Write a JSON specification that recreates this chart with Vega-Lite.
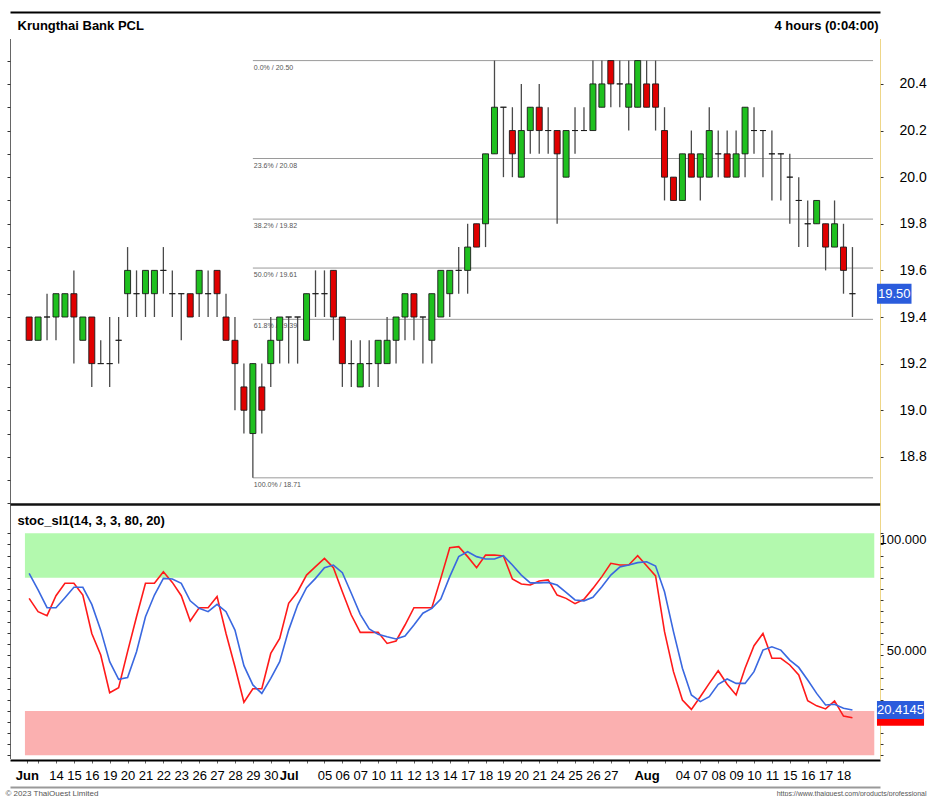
{
  "$schema": "https://vega.github.io/schema/vega-lite/v6.json",
  "autosize": {"type": "none"},
  "width": 870,
  "height": 720,
  "padding": {"left": 10, "top": 38, "right": 47, "bottom": 38},
  "background": "white",
  "config": {
    "view": {"stroke": null},
    "font": "Liberation Sans, Arial, sans-serif",
    "axis": {"grid": false}
  },
  "datasets": {
    "bars": [
      {"i":0,"t":"06-12 PM","o":19.4,"h":19.4,"l":19.3,"c":19.3,"k":70.7,"d":82.0},
      {"i":1,"t":"06-13 AM","o":19.3,"h":19.4,"l":19.3,"c":19.4,"k":64.7,"d":74.5},
      {"i":2,"t":"06-13 PM","o":19.4,"h":19.5,"l":19.3,"c":19.4,"k":62.9,"d":66.5},
      {"i":3,"t":"06-14 AM","o":19.4,"h":19.5,"l":19.3,"c":19.5,"k":71.9,"d":66.5},
      {"i":4,"t":"06-14 PM","o":19.4,"h":19.5,"l":19.4,"c":19.5,"k":77.5,"d":71.0},
      {"i":5,"t":"06-15 AM","o":19.5,"h":19.6,"l":19.2,"c":19.4,"k":77.5,"d":75.7},
      {"i":6,"t":"06-15 PM","o":19.3,"h":19.4,"l":19.3,"c":19.4,"k":72.2,"d":75.7},
      {"i":7,"t":"06-16 AM","o":19.4,"h":19.4,"l":19.1,"c":19.2,"k":54.9,"d":68.0},
      {"i":8,"t":"06-16 PM","o":19.2,"h":19.3,"l":19.2,"c":19.2,"k":45.2,"d":56.4},
      {"i":9,"t":"06-19 AM","o":19.2,"h":19.4,"l":19.1,"c":19.2,"k":28.2,"d":42.2},
      {"i":10,"t":"06-19 PM","o":19.3,"h":19.4,"l":19.2,"c":19.3,"k":30.5,"d":34.2},
      {"i":11,"t":"06-20 AM","o":19.5,"h":19.7,"l":19.4,"c":19.6,"k":46.7,"d":35.0},
      {"i":12,"t":"06-20 PM","o":19.5,"h":19.6,"l":19.4,"c":19.5,"k":62.4,"d":46.7},
      {"i":13,"t":"06-21 AM","o":19.5,"h":19.6,"l":19.4,"c":19.6,"k":77.5,"d":62.4},
      {"i":14,"t":"06-21 PM","o":19.5,"h":19.6,"l":19.4,"c":19.6,"k":77.5,"d":72.2},
      {"i":15,"t":"06-22 AM","o":19.6,"h":19.7,"l":19.5,"c":19.6,"k":82.7,"d":79.7},
      {"i":16,"t":"06-22 PM","o":19.5,"h":19.6,"l":19.4,"c":19.5,"k":77.9,"d":79.4},
      {"i":17,"t":"06-23 AM","o":19.5,"h":19.5,"l":19.3,"c":19.5,"k":71.9,"d":77.5},
      {"i":18,"t":"06-23 PM","o":19.5,"h":19.5,"l":19.4,"c":19.4,"k":60.5,"d":69.6},
      {"i":19,"t":"06-26 AM","o":19.5,"h":19.6,"l":19.4,"c":19.6,"k":66.5,"d":66.2},
      {"i":20,"t":"06-26 PM","o":19.5,"h":19.6,"l":19.4,"c":19.5,"k":66.5,"d":64.7},
      {"i":21,"t":"06-27 AM","o":19.6,"h":19.6,"l":19.4,"c":19.5,"k":71.5,"d":68.0},
      {"i":22,"t":"06-27 PM","o":19.4,"h":19.5,"l":19.3,"c":19.3,"k":54.9,"d":64.7},
      {"i":23,"t":"06-28 AM","o":19.3,"h":19.4,"l":19.0,"c":19.2,"k":39.9,"d":56.4},
      {"i":24,"t":"06-28 PM","o":19.1,"h":19.2,"l":18.9,"c":19.0,"k":23.9,"d":40.4},
      {"i":25,"t":"06-29 AM","o":18.9,"h":19.2,"l":18.71,"c":19.2,"k":30.0,"d":31.7},
      {"i":26,"t":"06-29 PM","o":19.1,"h":19.2,"l":18.9,"c":19.0,"k":30.0,"d":27.9},
      {"i":27,"t":"06-30 AM","o":19.2,"h":19.4,"l":19.1,"c":19.3,"k":45.9,"d":34.7},
      {"i":28,"t":"06-30 PM","o":19.3,"h":19.4,"l":19.2,"c":19.4,"k":52.7,"d":42.2},
      {"i":29,"t":"07-03 AM","o":19.4,"h":19.4,"l":19.2,"c":19.4,"k":68.5,"d":56.4},
      {"i":30,"t":"07-03 PM","o":19.4,"h":19.4,"l":19.2,"c":19.4,"k":73.7,"d":67.7},
      {"i":31,"t":"07-04 AM","o":19.3,"h":19.5,"l":19.3,"c":19.5,"k":81.2,"d":75.5},
      {"i":32,"t":"07-04 PM","o":19.5,"h":19.6,"l":19.4,"c":19.5,"k":85.0,"d":79.7},
      {"i":33,"t":"07-05 AM","o":19.5,"h":19.6,"l":19.4,"c":19.5,"k":88.7,"d":84.5},
      {"i":34,"t":"07-05 PM","o":19.6,"h":19.6,"l":19.3,"c":19.4,"k":84.5,"d":85.7},
      {"i":35,"t":"07-06 AM","o":19.4,"h":19.4,"l":19.1,"c":19.2,"k":73.7,"d":82.3},
      {"i":36,"t":"07-06 PM","o":19.2,"h":19.3,"l":19.1,"c":19.2,"k":63.2,"d":73.0},
      {"i":37,"t":"07-07 AM","o":19.1,"h":19.3,"l":19.1,"c":19.2,"k":55.4,"d":63.5},
      {"i":38,"t":"07-07 PM","o":19.2,"h":19.3,"l":19.1,"c":19.2,"k":55.4,"d":56.9},
      {"i":39,"t":"07-10 AM","o":19.2,"h":19.3,"l":19.1,"c":19.3,"k":55.4,"d":54.5},
      {"i":40,"t":"07-10 PM","o":19.2,"h":19.4,"l":19.2,"c":19.3,"k":50.4,"d":53.4},
      {"i":41,"t":"07-11 AM","o":19.3,"h":19.4,"l":19.2,"c":19.4,"k":51.5,"d":52.4},
      {"i":42,"t":"07-11 PM","o":19.4,"h":19.5,"l":19.3,"c":19.5,"k":58.7,"d":53.7},
      {"i":43,"t":"07-12 AM","o":19.5,"h":19.5,"l":19.3,"c":19.4,"k":66.5,"d":58.7},
      {"i":44,"t":"07-12 PM","o":19.4,"h":19.4,"l":19.2,"c":19.4,"k":66.5,"d":64.0},
      {"i":45,"t":"07-13 AM","o":19.3,"h":19.5,"l":19.2,"c":19.5,"k":66.5,"d":66.2},
      {"i":46,"t":"07-13 PM","o":19.4,"h":19.6,"l":19.4,"c":19.6,"k":79.7,"d":70.4},
      {"i":47,"t":"07-14 AM","o":19.5,"h":19.6,"l":19.4,"c":19.6,"k":93.5,"d":80.5},
      {"i":48,"t":"07-14 PM","o":19.6,"h":19.7,"l":19.5,"c":19.6,"k":94.0,"d":89.5},
      {"i":49,"t":"07-17 AM","o":19.6,"h":19.8,"l":19.5,"c":19.7,"k":89.5,"d":91.7},
      {"i":50,"t":"07-17 PM","o":19.8,"h":19.8,"l":19.7,"c":19.7,"k":84.5,"d":89.5},
      {"i":51,"t":"07-18 AM","o":19.8,"h":20.1,"l":19.7,"c":20.1,"k":90.2,"d":88.4},
      {"i":52,"t":"07-18 PM","o":20.1,"h":20.5,"l":20.1,"c":20.3,"k":90.2,"d":88.4},
      {"i":53,"t":"07-19 AM","o":20.3,"h":20.3,"l":20.0,"c":20.3,"k":89.8,"d":89.9},
      {"i":54,"t":"07-19 PM","o":20.2,"h":20.3,"l":20.0,"c":20.1,"k":79.4,"d":85.7},
      {"i":55,"t":"07-20 AM","o":20.0,"h":20.4,"l":20.0,"c":20.2,"k":77.2,"d":81.2},
      {"i":56,"t":"07-20 PM","o":20.2,"h":20.3,"l":20.1,"c":20.3,"k":76.7,"d":77.7},
      {"i":57,"t":"07-21 AM","o":20.3,"h":20.4,"l":20.1,"c":20.2,"k":78.5,"d":77.7},
      {"i":58,"t":"07-21 PM","o":20.2,"h":20.3,"l":20.1,"c":20.2,"k":79.0,"d":77.9},
      {"i":59,"t":"07-24 AM","o":20.2,"h":20.2,"l":19.8,"c":20.1,"k":72.2,"d":76.7},
      {"i":60,"t":"07-24 PM","o":20.0,"h":20.2,"l":20.0,"c":20.2,"k":70.7,"d":73.4},
      {"i":61,"t":"07-25 AM","o":20.2,"h":20.3,"l":20.1,"c":20.2,"k":68.3,"d":70.0},
      {"i":62,"t":"07-25 PM","o":20.2,"h":20.3,"l":20.2,"c":20.2,"k":70.3,"d":69.6},
      {"i":63,"t":"07-26 AM","o":20.2,"h":20.5,"l":20.2,"c":20.4,"k":75.2,"d":71.2},
      {"i":64,"t":"07-26 PM","o":20.3,"h":20.5,"l":20.3,"c":20.4,"k":80.5,"d":75.9},
      {"i":65,"t":"07-27 AM","o":20.5,"h":20.5,"l":20.3,"c":20.4,"k":86.5,"d":81.2},
      {"i":66,"t":"07-27 PM","o":20.4,"h":20.5,"l":20.3,"c":20.4,"k":85.7,"d":84.8},
      {"i":67,"t":"07-31 AM","o":20.3,"h":20.5,"l":20.2,"c":20.4,"k":85.7,"d":85.7},
      {"i":68,"t":"07-31 PM","o":20.3,"h":20.5,"l":20.3,"c":20.5,"k":89.9,"d":86.8},
      {"i":69,"t":"08-02 AM","o":20.4,"h":20.5,"l":20.3,"c":20.3,"k":85.4,"d":87.2},
      {"i":70,"t":"08-02 PM","o":20.4,"h":20.5,"l":20.2,"c":20.3,"k":80.8,"d":85.3},
      {"i":71,"t":"08-03 AM","o":20.2,"h":20.3,"l":19.9,"c":20.0,"k":55.7,"d":73.7},
      {"i":72,"t":"08-03 PM","o":20.0,"h":20.0,"l":19.9,"c":19.9,"k":37.7,"d":55.7},
      {"i":73,"t":"08-04 AM","o":19.9,"h":20.1,"l":19.9,"c":20.1,"k":24.9,"d":39.2},
      {"i":74,"t":"08-04 PM","o":20.1,"h":20.2,"l":20.0,"c":20.0,"k":20.7,"d":27.2},
      {"i":75,"t":"08-07 AM","o":20.0,"h":20.1,"l":19.9,"c":20.1,"k":26.4,"d":24.2},
      {"i":76,"t":"08-07 PM","o":20.0,"h":20.3,"l":20.0,"c":20.2,"k":32.4,"d":26.4},
      {"i":77,"t":"08-08 AM","o":20.1,"h":20.2,"l":20.0,"c":20.1,"k":38.1,"d":32.0},
      {"i":78,"t":"08-08 PM","o":20.1,"h":20.2,"l":20.0,"c":20.0,"k":32.0,"d":34.4},
      {"i":79,"t":"08-09 AM","o":20.0,"h":20.2,"l":20.0,"c":20.1,"k":27.2,"d":32.4},
      {"i":80,"t":"08-09 PM","o":20.1,"h":20.3,"l":20.0,"c":20.3,"k":39.2,"d":32.4},
      {"i":81,"t":"08-10 AM","o":20.2,"h":20.3,"l":20.1,"c":20.2,"k":49.4,"d":37.7},
      {"i":82,"t":"08-10 PM","o":20.2,"h":20.2,"l":20.0,"c":20.2,"k":54.9,"d":47.4},
      {"i":83,"t":"08-11 AM","o":20.1,"h":20.2,"l":19.9,"c":20.1,"k":43.7,"d":48.9},
      {"i":84,"t":"08-11 PM","o":20.1,"h":20.1,"l":19.9,"c":20.1,"k":43.7,"d":47.4},
      {"i":85,"t":"08-15 AM","o":20.0,"h":20.1,"l":19.8,"c":20.0,"k":40.7,"d":42.9},
      {"i":86,"t":"08-15 PM","o":19.9,"h":20.0,"l":19.7,"c":19.9,"k":36.2,"d":39.6},
      {"i":87,"t":"08-16 AM","o":19.8,"h":19.9,"l":19.7,"c":19.8,"k":24.6,"d":33.9},
      {"i":88,"t":"08-16 PM","o":19.8,"h":19.9,"l":19.8,"c":19.9,"k":22.3,"d":27.9},
      {"i":89,"t":"08-17 AM","o":19.8,"h":19.8,"l":19.6,"c":19.7,"k":20.9,"d":22.7},
      {"i":90,"t":"08-17 PM","o":19.7,"h":19.9,"l":19.7,"c":19.8,"k":24.5,"d":23.0},
      {"i":91,"t":"08-18 AM","o":19.7,"h":19.8,"l":19.5,"c":19.6,"k":17.7,"d":21.2},
      {"i":92,"t":"08-18 PM","o":19.5,"h":19.7,"l":19.4,"c":19.5,"k":16.9,"d":20.4145}
    ],
    "fib": [
      {"from":25,"p":20.50,"label":"0.0% / 20.50"},
      {"from":25,"p":20.08,"label":"23.6% / 20.08"},
      {"from":25,"p":19.82,"label":"38.2% / 19.82"},
      {"from":25,"p":19.61,"label":"50.0% / 19.61"},
      {"from":25,"p":19.39,"label":"61.8% / 19.39"},
      {"from":25,"p":18.71,"label":"100.0% / 18.71"}
    ],
    "zones": [
      {"zone":"overbought","lo":80,"hi":100},
      {"zone":"oversold","lo":0,"hi":20}
    ]
  },
  "resolve": {
    "scale": {"y": "independent"},
    "axis": {"x": "independent", "y": "independent"}
  },
  "layer": [
    {
      "data": {"name": "zones"},
      "mark": {"type": "rect"},
      "encoding": {
        "x": {"datum": -0.47, "type": "quantitative",
          "scale": {"domain": [-1.58, 94.52], "nice": false, "zero": false},
          "axis": {"orient": "bottom", "offset": 29, "ticks": false, "labels": false,
            "domainColor": "#999999", "domainWidth": 2,
            "title": "© 2023 ThaiQuest Limited", "titleX": -5, "titleY": 6,
            "titleAlign": "left", "titleBaseline": "middle", "titleFontSize": 8,
            "titleFontWeight": "normal", "titleColor": "#555555"}},
        "x2": {"datum": 94.44},
        "y": {"field": "lo", "type": "quantitative",
          "scale": {"domain": [-1.2, 323.1], "nice": false, "zero": false},
          "axis": {"orient": "left", "values": [0,5,10,15,20,25,30,35,40,45,50,55,60,65,70,75,80,85,90,95,100],
            "labels": false, "tickSize": 3, "tickColor": "#333333", "domainColor": "#333333", "domainDash": [1,1],
            "title": "stoc_sl1(14, 3, 3, 80, 20)", "titleAngle": 0, "titleX": 7, "titleY": 482,
            "titleAlign": "left", "titleBaseline": "middle", "titleFontSize": 13,
            "titleFontWeight": "bold", "titleColor": "#000000"}},
        "y2": {"field": "hi"},
        "fill": {"field": "zone", "type": "nominal",
          "scale": {"domain": ["overbought","oversold"], "range": ["#b3f9ae","#fbb0b0"]}, "legend": null}
      }
    },
    {
      "data": {"name": "fib"},
      "mark": {"type": "rule", "color": "#9a9a9a", "strokeWidth": 1},
      "encoding": {
        "x": {"field": "from", "type": "quantitative",
          "scale": {"domain": [-1.58, 94.52], "nice": false, "zero": false},
          "axis": {"orient": "top", "offset": 26, "ticks": false, "labels": false,
            "domainColor": "#000000", "domainWidth": 2, "title": null}},
        "x2": {"datum": 94.3},
        "y": {"field": "p", "type": "quantitative",
          "scale": {"domain": [17.508, 20.597], "nice": false, "zero": false}, "axis": null}
      }
    },
    {
      "data": {"name": "fib"},
      "mark": {"type": "text", "align": "left", "baseline": "top", "dx": 1, "dy": 3, "fontSize": 7, "color": "#555555"},
      "encoding": {
        "x": {"field": "from", "type": "quantitative",
          "scale": {"domain": [-1.58, 94.52], "nice": false, "zero": false},
          "axis": {"orient": "top", "offset": -466, "ticks": false, "labels": false,
            "domainColor": "#111111", "domainWidth": 2.5, "title": null}},
        "y": {"field": "p", "type": "quantitative",
          "scale": {"domain": [17.508, 20.597], "nice": false, "zero": false}, "axis": null},
        "text": {"field": "label"}
      }
    },
    {
      "data": {"name": "bars"},
      "mark": {"type": "rule", "color": "#4a4a4a", "strokeWidth": 1.3},
      "encoding": {
        "x": {"field": "i", "type": "quantitative",
          "scale": {"domain": [-1.58, 94.52], "nice": false, "zero": false},
          "axis": {"orient": "bottom", "offset": 2, "title": null,
            "values": [-0.25,1,3,5,7,9,11,13,15,17,19,21,23,25,27,29,31,33,35,37,39,41,43,45,47,49,51,53,55,57,59,61,63,65,67,69,71,73,75,77,79,81,83,85,87,89,91],
            "labelExpr": "datum.value < 0 ? 'Jun' : ['','14','15','16','19','20','21','22','23','26','27','28','29','30','Jul','','05','06','07','10','11','12','13','14','17','18','19','20','21','24','25','26','27','','Aug','','04','07','08','09','10','11','15','16','17','18'][(datum.value - 1) / 2]",
            "labelOverlap": false, "labelBound": false, "labelFlush": false,
            "labelFontSize": 13, "labelColor": "#000000", "labelPadding": 6,
            "labelFontWeight": {"condition": {"test": "datum.value < 0 || datum.value == 29 || datum.value == 69", "value": "bold"}, "value": "normal"},
            "tickSize": 3, "tickColor": "#666666", "domainColor": "#000000", "domainWidth": 2}},
        "y": {"field": "l", "type": "quantitative",
          "scale": {"domain": [17.508, 20.597], "nice": false, "zero": false},
          "axis": {"orient": "left", "values": [18.6,18.7,18.8,18.9,19.0,19.1,19.2,19.3,19.4,19.5,19.6,19.7,19.8,19.9,20.0,20.1,20.2,20.3,20.4,20.5],
            "labels": false, "tickSize": 3, "tickColor": "#333333", "domainColor": "#333333", "domainDash": [1,1],
            "title": "Krungthai Bank PCL", "titleAngle": 0, "titleX": 7, "titleY": -13,
            "titleAlign": "left", "titleBaseline": "middle", "titleFontSize": 13,
            "titleFontWeight": "bold", "titleColor": "#000000"}},
        "y2": {"field": "h"}
      }
    },
    {
      "data": {"name": "bars"},
      "mark": {"type": "bar", "width": 6, "stroke": "#1a1a1a", "strokeWidth": 0.9},
      "encoding": {
        "x": {"field": "i", "type": "quantitative",
          "scale": {"domain": [-1.58, 94.52], "nice": false, "zero": false}, "axis": null},
        "y": {"field": "o", "type": "quantitative",
          "scale": {"domain": [17.508, 20.597], "nice": false, "zero": false},
          "axis": {"orient": "right", "values": [18.8,19.0,19.2,19.4,19.6,19.8,20.0,20.2,20.4], "format": ".1f",
            "labelAlign": "left", "labelPadding": 16, "labelFontSize": 14, "labelColor": "#000000",
            "tickSize": 3, "tickColor": "#333333", "domainColor": "#e8c860", "domainDash": [1,1],
            "title": "4 hours (0:04:00)", "titleAngle": 0, "titleX": -2, "titleY": -13,
            "titleAlign": "right", "titleBaseline": "middle", "titleFontSize": 13,
            "titleFontWeight": "bold", "titleColor": "#000000"}},
        "y2": {"field": "c"},
        "fill": {"condition": {"test": "datum.c >= datum.o", "value": "#1fc01f"}, "value": "#e00000"}
      }
    },
    {
      "data": {"name": "bars"},
      "mark": {"type": "line", "color": "#ff1a1a", "strokeWidth": 1.6},
      "encoding": {
        "x": {"field": "i", "type": "quantitative",
          "scale": {"domain": [-1.58, 94.52], "nice": false, "zero": false},
          "axis": {"orient": "bottom", "offset": 29, "domain": false, "ticks": false, "labels": false,
            "title": "https://www.thaiquest.com/products/professional", "titleX": 916, "titleY": 6,
            "titleAlign": "right", "titleBaseline": "middle", "titleFontSize": 7,
            "titleFontWeight": "normal", "titleColor": "#555555"}},
        "y": {"field": "k", "type": "quantitative",
          "scale": {"domain": [-1.2, 323.1], "nice": false, "zero": false},
          "axis": {"orient": "right", "values": [0,5,10,15,20,25,30,35,40,45,50,55,60,65,70,75,80,85,90,95,100],
            "labelExpr": "datum.value == 100 || datum.value == 50 ? format(datum.value, '.3f') : ''",
            "labelAlign": "right", "labelPadding": 43, "labelFontSize": 13, "labelColor": "#000000",
            "labelOffset": 6,
            "tickSize": 3, "tickColor": "#333333", "domainColor": "#e8c860", "domainDash": [1,1], "title": null}}
      }
    },
    {
      "data": {"name": "bars"},
      "mark": {"type": "line", "color": "#3a68e0", "strokeWidth": 1.6},
      "encoding": {
        "x": {"field": "i", "type": "quantitative",
          "scale": {"domain": [-1.58, 94.52], "nice": false, "zero": false}, "axis": null},
        "y": {"field": "d", "type": "quantitative",
          "scale": {"domain": [-1.2, 323.1], "nice": false, "zero": false}, "axis": null}
      }
    },
    {
      "data": {"name": "bars"},
      "transform": [{"filter": "datum.i == 92"}],
      "mark": {"type": "rect", "color": "#2b5cdc", "yOffset": -10, "y2Offset": 10},
      "encoding": {
        "x": {"datum": 94.74, "type": "quantitative",
          "scale": {"domain": [-1.58, 94.52], "nice": false, "zero": false}, "axis": null},
        "x2": {"datum": 98.6},
        "y": {"field": "c", "type": "quantitative",
          "scale": {"domain": [17.508, 20.597], "nice": false, "zero": false}, "axis": null},
        "y2": {"field": "c"}
      }
    },
    {
      "data": {"name": "bars"},
      "transform": [{"filter": "datum.i == 92"}],
      "mark": {"type": "text", "align": "left", "baseline": "middle", "fontSize": 13, "color": "white", "dx": 1},
      "encoding": {
        "x": {"datum": 94.74, "type": "quantitative",
          "scale": {"domain": [-1.58, 94.52], "nice": false, "zero": false}, "axis": null},
        "y": {"field": "c", "type": "quantitative",
          "scale": {"domain": [17.508, 20.597], "nice": false, "zero": false}, "axis": null},
        "text": {"field": "c", "format": ".2f"}
      }
    },
    {
      "data": {"name": "bars"},
      "transform": [{"filter": "datum.i == 92"}],
      "mark": {"type": "rect", "color": "#ff0000", "yOffset": -8, "y2Offset": 8},
      "encoding": {
        "x": {"datum": 94.74, "type": "quantitative",
          "scale": {"domain": [-1.58, 94.52], "nice": false, "zero": false}, "axis": null},
        "x2": {"datum": 100},
        "y": {"field": "k", "type": "quantitative",
          "scale": {"domain": [-1.2, 323.1], "nice": false, "zero": false}, "axis": null},
        "y2": {"field": "k"}
      }
    },
    {
      "data": {"name": "bars"},
      "transform": [{"filter": "datum.i == 92"}],
      "mark": {"type": "rect", "color": "#2b5cdc", "yOffset": -9, "y2Offset": 9},
      "encoding": {
        "x": {"datum": 94.74, "type": "quantitative",
          "scale": {"domain": [-1.58, 94.52], "nice": false, "zero": false}, "axis": null},
        "x2": {"datum": 100},
        "y": {"field": "d", "type": "quantitative",
          "scale": {"domain": [-1.2, 323.1], "nice": false, "zero": false}, "axis": null},
        "y2": {"field": "d"}
      }
    },
    {
      "data": {"name": "bars"},
      "transform": [{"filter": "datum.i == 92"}],
      "mark": {"type": "text", "align": "left", "baseline": "middle", "fontSize": 13, "color": "white", "dx": 0},
      "encoding": {
        "x": {"datum": 94.74, "type": "quantitative",
          "scale": {"domain": [-1.58, 94.52], "nice": false, "zero": false}, "axis": null},
        "y": {"field": "d", "type": "quantitative",
          "scale": {"domain": [-1.2, 323.1], "nice": false, "zero": false}, "axis": null},
        "text": {"field": "d", "format": ".4f"}
      }
    }
  ]
}
